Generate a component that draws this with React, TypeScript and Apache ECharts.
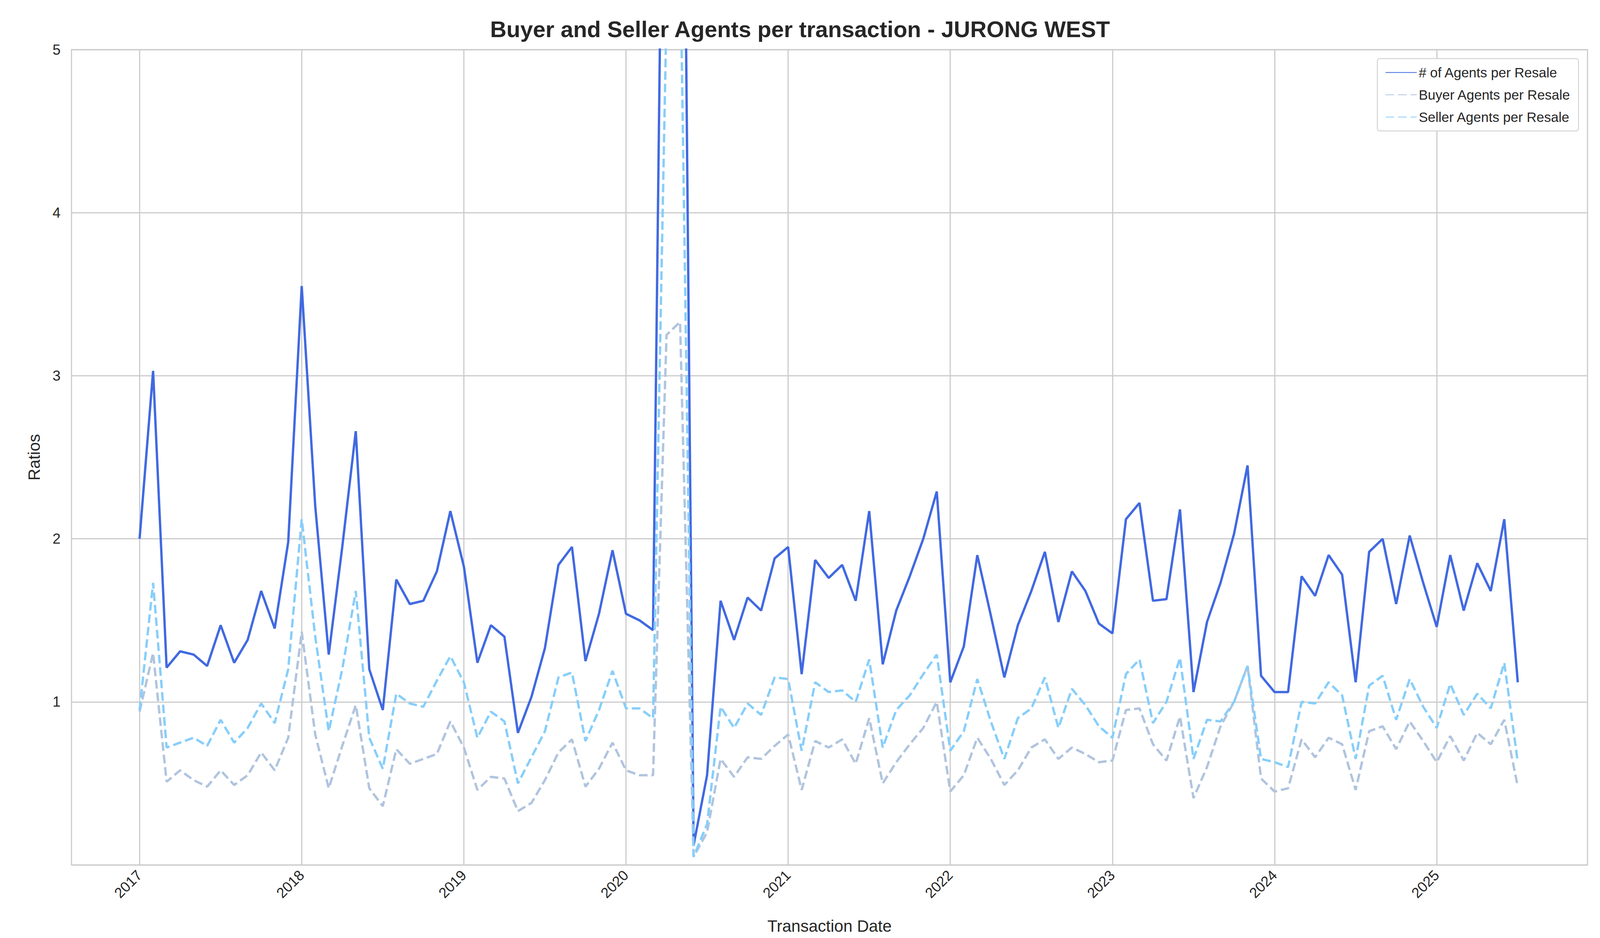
import React, { useEffect, useRef } from "react";
import * as echarts from "echarts";

const startYear = 2017;
const totalAgents = [
  2.0, 3.03, 1.21, 1.31, 1.29, 1.22, 1.47, 1.24, 1.38, 1.68, 1.45, 1.98,
  3.55, 2.2, 1.29, 1.95, 2.66, 1.2, 0.95, 1.75, 1.6, 1.62, 1.8, 2.17,
  1.83, 1.24, 1.47, 1.4, 0.81, 1.03, 1.33, 1.84, 1.95, 1.25, 1.54, 1.93,
  1.54, 1.5, 1.44, 8.5, 9.0, 0.12, 0.55, 1.62, 1.38, 1.64, 1.56, 1.88,
  1.95, 1.17, 1.87, 1.76, 1.84, 1.62, 2.17, 1.23, 1.56, 1.77, 2.0, 2.29,
  1.12, 1.34, 1.9, 1.53, 1.15, 1.47, 1.68, 1.92, 1.49, 1.8, 1.68, 1.48,
  1.42, 2.12, 2.22, 1.62, 1.63, 2.18, 1.06, 1.49, 1.73, 2.03, 2.45, 1.16,
  1.06, 1.06, 1.77, 1.65, 1.9, 1.78, 1.12, 1.92, 2.0, 1.6, 2.02, 1.73,
  1.46, 1.9, 1.56, 1.85, 1.68, 2.12, 1.12,
];
const buyerAgents = [
  0.94, 1.3, 0.51, 0.58, 0.52, 0.48, 0.58, 0.49, 0.55, 0.69, 0.58, 0.78,
  1.43, 0.8, 0.47, 0.73, 0.98, 0.47, 0.36, 0.71, 0.62, 0.65, 0.68, 0.88,
  0.72, 0.46, 0.54, 0.53, 0.33, 0.38, 0.52, 0.69, 0.77, 0.48, 0.59, 0.75,
  0.58, 0.55, 0.55, 3.25, 3.33, 0.05, 0.2, 0.65, 0.54, 0.66, 0.65, 0.73,
  0.8, 0.46, 0.76, 0.72, 0.77, 0.62, 0.9, 0.5, 0.63, 0.74, 0.84, 1.0,
  0.45, 0.55, 0.78, 0.65, 0.49, 0.58, 0.72, 0.77, 0.65, 0.72, 0.68, 0.63,
  0.64, 0.95, 0.96, 0.74, 0.64, 0.91, 0.41, 0.6, 0.85, 1.0, 1.22, 0.53,
  0.45, 0.47, 0.77, 0.66, 0.78, 0.74, 0.46, 0.82, 0.85, 0.71, 0.88, 0.76,
  0.63, 0.79, 0.64, 0.81, 0.74, 0.89, 0.48,
];
const sellerAgents = [
  0.95, 1.73, 0.72, 0.75, 0.78, 0.73, 0.89, 0.75, 0.84, 0.99, 0.87, 1.2,
  2.12, 1.4, 0.82, 1.2, 1.68, 0.78, 0.59, 1.05, 0.99, 0.97, 1.13, 1.28,
  1.12, 0.78, 0.94, 0.88, 0.5, 0.66, 0.82, 1.15, 1.18, 0.76, 0.95, 1.19,
  0.96, 0.96, 0.9, 5.25, 5.67, 0.05, 0.25, 0.97, 0.84, 0.99, 0.92, 1.15,
  1.14, 0.7, 1.12, 1.06, 1.07, 1.0, 1.26, 0.72, 0.95, 1.04, 1.17, 1.29,
  0.7, 0.82, 1.14, 0.88, 0.65, 0.9, 0.96, 1.15, 0.84, 1.08, 0.98, 0.85,
  0.78, 1.17, 1.26, 0.87, 1.0, 1.27, 0.65, 0.89, 0.88, 1.0, 1.22, 0.65,
  0.63, 0.6, 1.0, 0.99, 1.12, 1.04, 0.65, 1.1, 1.16, 0.89, 1.14, 0.97,
  0.84, 1.11, 0.92, 1.05, 0.96, 1.24, 0.63,
];
const yearTicks = [2017, 2018, 2019, 2020, 2021, 2022, 2023, 2024, 2025];

const toPoints = (arr: number[]) =>
  arr.map((v, i) => [startYear + i / 12, v]);

export default function App() {
  const ref = useRef<HTMLDivElement>(null);
  useEffect(() => {
    document.body.style.margin = "0";
    document.body.style.overflow = "hidden";
    const chart = echarts.init(ref.current!, undefined, { renderer: "svg" });
    const font = "Arial, 'Liberation Sans', sans-serif";
    chart.setOption({
      animation: false,
      backgroundColor: "#fff",
      textStyle: { fontFamily: font },
      title: {
        text: "Buyer and Seller Agents per transaction - JURONG WEST",
        left: "center",
        top: 40,
        textStyle: { fontSize: 58, fontWeight: "bold", color: "#262626", fontFamily: font },
      },
      grid: {
        left: 183, right: 32, top: 127, bottom: 187,
        show: true, borderColor: "#cccccc", borderWidth: 3,
      },
      legend: {
        orient: "vertical",
        right: 55,
        top: 150,
        itemWidth: 80,
        itemHeight: 20,
        itemGap: 22,
        padding: [18, 20, 18, 20],
        borderColor: "#cccccc",
        borderWidth: 2,
        borderRadius: 6,
        backgroundColor: "#fff",
        itemStyle: { opacity: 0 },
        textStyle: { fontSize: 35, color: "#262626", fontFamily: font },
        data: ["# of Agents per Resale", "Buyer Agents per Resale", "Seller Agents per Resale"],
      },
      xAxis: {
        type: "value",
        min: 2016.58,
        max: 2025.93,
        name: "Transaction Date",
        nameLocation: "middle",
        nameGap: 135,
        nameTextStyle: { fontSize: 42, color: "#262626" },
        axisLine: { show: false },
        axisTick: { show: false, customValues: yearTicks },
        axisLabel: {
          customValues: yearTicks,
          rotate: 45,
          fontSize: 37,
          color: "#262626",
          margin: 20,
          formatter: (v: number) => String(Math.round(v)),
        },
        splitLine: { show: true, lineStyle: { color: "#cccccc", width: 3 } },
      },
      yAxis: {
        type: "value",
        min: 0,
        max: 5,
        interval: 1,
        name: "Ratios",
        nameLocation: "middle",
        nameGap: 75,
        nameTextStyle: { fontSize: 42, color: "#262626" },
        axisLine: { show: false },
        axisTick: { show: false },
        axisLabel: {
          fontSize: 37,
          color: "#262626",
          margin: 28,
          formatter: (v: number) => (v === 0 ? "" : String(v)),
        },
        splitLine: { show: true, lineStyle: { color: "#cccccc", width: 3 } },
      },
      series: [
        {
          name: "# of Agents per Resale",
          type: "line",
          symbol: "none",
          data: toPoints(totalAgents),
          lineStyle: { color: "#4169E1", width: 6 },
          itemStyle: { color: "#4169E1" },
          clip: true,
        },
        {
          name: "Buyer Agents per Resale",
          type: "line",
          symbol: "none",
          data: toPoints(buyerAgents),
          lineStyle: { color: "#B0C4DE", width: 6, type: [22, 10] },
          itemStyle: { color: "#B0C4DE" },
          clip: true,
        },
        {
          name: "Seller Agents per Resale",
          type: "line",
          symbol: "none",
          data: toPoints(sellerAgents),
          lineStyle: { color: "#87CEFA", width: 6, type: [22, 10] },
          itemStyle: { color: "#87CEFA" },
          clip: true,
        },
      ],
    });
    return () => chart.dispose();
  }, []);
  return (
    <div
      ref={ref}
      style={{ position: "fixed", left: 0, top: 0, width: "100vw", height: "100vh" }}
    />
  );
}
